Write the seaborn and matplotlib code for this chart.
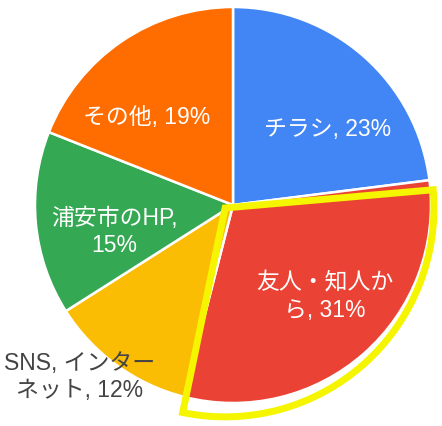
import matplotlib
matplotlib.use("Agg")
import matplotlib.pyplot as plt
from matplotlib.patches import Wedge
import seaborn as sns

categories = ["チラシ", "友人・知人から", "SNS,インターネット", "浦安市のHP", "その他"]
values = [23, 31, 12, 15, 19]
label_texts = ["チラシ, 23%", "友人・知人か\nら, 31%", "SNS, インター\nネット, 12%", "浦安市のHP,\n15%", "その他, 19%"]

colors = sns.color_palette(["#4285F4", "#EA4335", "#FBBC04", "#34A853", "#FF6D01"])
label_colors = ["white", "white", "#444444", "white", "white"]
label_pos = [(0.48, 0.38), (0.465, -0.465), (-0.773, -0.869), (-0.60, -0.136), (-0.434, 0.44)]

sns.set_theme(style="white")
plt.rcParams['font.family'] = ['Liberation Sans', 'Noto Sans CJK JP', 'DejaVu Sans']

fig = plt.figure(figsize=(4.42, 4.26), dpi=100)
R = 198
cx, cy = 233, 205
ax = fig.add_axes([(cx - R) / 442, (426 - cy - R) / 426, 2 * R / 442, 2 * R / 426])
ax.pie(values, colors=colors, startangle=90, counterclock=False, radius=1.0,
       wedgeprops=dict(edgecolor="white", linewidth=1.8))
ax.set_xlim(-1, 1)
ax.set_ylim(-1, 1)
ax.set_aspect("equal")

for txt, (x, y), c in zip(label_texts, label_pos, label_colors):
    ax.text(x, y, txt, ha="center", va="center", color=c, fontsize=16.5,
            linespacing=1.25, clip_on=False)

hl = Wedge((-0.04, -0.015), 1.055, -101.7, 5.0, fill=False, edgecolor="#F5F500",
           linewidth=5.0, clip_on=False, joinstyle="miter")
ax.add_patch(hl)
ax.axis("off")
fig.savefig("out.png", dpi=100)
